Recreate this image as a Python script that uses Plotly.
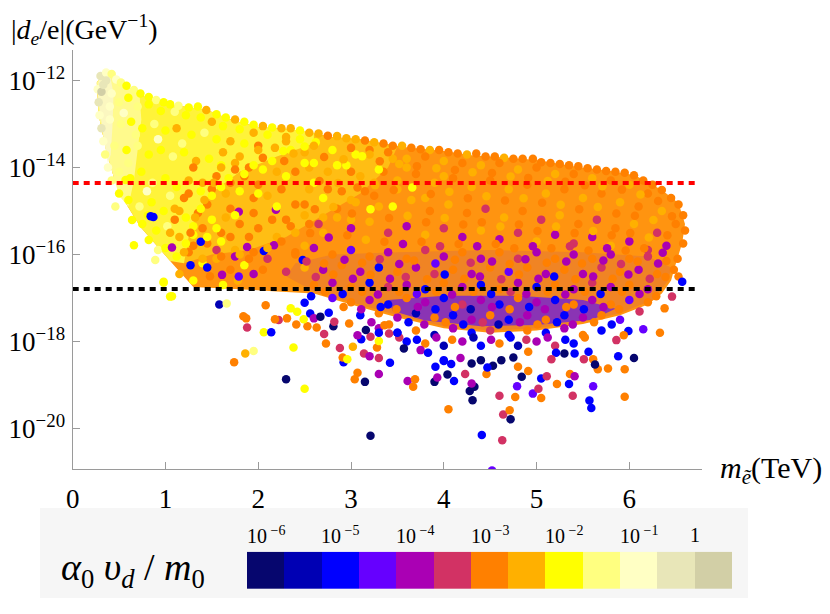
import plotly.graph_objects as go

# the page body adds an 8px margin, so the figure is drawn inside it
OX, OY = 8, 8
W, H = 822, 606

# colour legend: log10(alpha0 v_d / m0) in half-decade bins
bin_exp = [-6, -5.5, -5, -4.5, -4, -3.5, -3, -2.5, -2, -1.5, -1, -0.5, 0]
bin_colors = ["#06066e", "#0000b4", "#0000ff", "#6600ff", "#aa00b4", "#d23264",
              "#ff8000", "#ffb000", "#ffff00", "#ffff80", "#ffffc4", "#e8e6b8", "#d2cfa6"]
legend_pos = [0, 2, 4, 6, 8, 10, 11.5]
legend_text = ["10<sup> −6</sup>", "10<sup> −5</sup>", "10<sup> −4</sup>", "10<sup> −3</sup>",
               "10<sup> −2</sup>", "10<sup> −1</sup>", "1"]

# EDM bounds, GeV^-1
bound_red = 4.4e-15
bound_black = 1.6e-17

x_ticks = [0, 1, 2, 3, 4, 5, 6]
y_ticks = [1e-12, 1e-14, 1e-16, 1e-18, 1e-20]
y_ticktext = ["10<sup>−12</sup>", "10<sup>−14</sup>", "10<sup>−16</sup>", "10<sup>−18</sup>", "10<sup>−20</sup>"]

# outline of the dense part of the scan (m in TeV, log10 |d_e/e|)
env_m = [0.26, 0.33, 0.40, 0.50, 0.60, 0.75, 0.95, 1.20, 1.45, 1.70, 2.00, 2.40, 2.80, 3.10,
         3.57, 4.00, 4.30, 4.70, 5.00, 5.45, 5.80, 6.06, 6.35, 6.53, 6.60, 6.57, 6.49, 6.45,
         6.35, 6.20, 5.90, 5.50, 5.00, 4.50, 4.00, 3.50, 3.00, 2.60, 2.20, 1.80, 1.30, 1.05,
         0.73, 0.55, 0.44, 0.36, 0.28]
env_ld = [-12.05, -11.85, -11.82, -11.95, -12.15, -12.35, -12.52, -12.60, -12.68, -12.90,
          -13.07, -13.14, -13.30, -13.35, -13.53, -13.62, -13.72, -13.78, -13.83, -13.99,
          -14.08, -14.18, -14.52, -14.82, -15.30, -15.74, -16.29, -16.60, -16.90, -17.15,
          -17.40, -17.60, -17.75, -17.80, -17.70, -17.45, -17.15, -16.90, -16.85, -16.80,
          -16.75, -16.15, -15.37, -14.75, -14.20, -13.60, -12.80]

amber_m = [1.70, 2.00, 2.40, 2.80, 3.10, 3.50, 3.40, 3.10, 2.70, 2.30, 1.90, 1.50, 1.20, 1.25, 1.40, 1.50]
amber_ld = [-12.90, -13.07, -13.14, -13.30, -13.35, -13.52, -14.00, -14.60, -15.10, -15.60,
            -15.90, -16.00, -16.20, -15.00, -14.00, -13.20]

yellow_m = [0.26, 0.33, 0.40, 0.50, 0.60, 0.75, 0.95, 1.20, 1.45, 1.70, 2.00, 2.40, 2.60, 2.60,
            2.20, 1.80, 1.55, 1.35, 1.25, 1.20, 1.05, 0.73, 0.55, 0.44, 0.36, 0.28]
yellow_ld = [-12.05, -11.85, -11.82, -11.95, -12.15, -12.35, -12.52, -12.60, -12.68, -12.90,
             -13.07, -13.14, -13.20, -13.45, -13.75, -14.10, -14.50, -15.00, -15.60, -16.20,
             -16.15, -15.37, -14.75, -14.20, -13.60, -12.80]

light_m = [0.26, 0.33, 0.40, 0.50, 0.60, 0.72, 0.74, 0.70, 0.66, 0.60, 0.50, 0.44, 0.36, 0.28]
light_ld = [-12.05, -11.85, -11.82, -11.95, -12.15, -12.32, -12.90, -13.60, -14.30, -14.90,
            -14.65, -14.20, -13.60, -12.80]

pale_m = [0.28, 0.33, 0.40, 0.44, 0.43, 0.41, 0.38, 0.34, 0.30, 0.27]
pale_ld = [-12.00, -11.86, -11.86, -12.30, -13.00, -13.70, -13.90, -13.40, -12.80, -12.30]

low_m = [2.40, 2.80, 3.50, 4.50, 5.50, 6.20, 6.45, 6.42, 6.25, 5.90, 5.50, 5.00, 4.50, 4.00,
         3.50, 3.00, 2.60, 2.30]
low_ld = [-16.20, -16.00, -15.95, -15.90, -15.95, -16.05, -16.30, -16.60, -17.05, -17.35,
          -17.55, -17.70, -17.75, -17.65, -17.40, -17.10, -16.85, -16.50]

blue_m = [3.40, 4.00, 4.80, 5.50, 5.85, 5.60, 5.00, 4.40, 3.80, 3.45]
blue_ld = [-17.05, -16.95, -16.95, -17.05, -17.25, -17.50, -17.62, -17.65, -17.52, -17.30]

# individual points (m, log10 |d_e/e|, log10 alpha0 v_d/m0)
edge_pts = [
    (0.30, -11.90, -0.5), (0.36, -11.82, -1), (0.42, -11.85, -1.5), (0.47, -11.98, -1),
    (0.52, -12.05, -1.5), (0.58, -12.12, -2), (0.66, -12.22, -1.5), (0.73, -12.30, -2),
    (0.82, -12.38, -2), (0.90, -12.45, -1.5), (0.98, -12.50, -2), (1.05, -12.55, -2),
    (1.14, -12.58, -1.5), (1.25, -12.62, -2), (1.35, -12.60, -2), (1.44, -12.68, -2.5),
    (1.55, -12.78, -2), (1.65, -12.85, -2), (1.75, -12.90, -2.5), (1.85, -12.95, -2),
    (1.95, -13.02, -2), (2.05, -13.05, -2.5), (2.15, -13.08, -2), (2.25, -13.10, -2.5),
    (2.35, -13.10, -2.5), (2.45, -13.15, -2), (2.55, -13.20, -2.5), (2.65, -13.22, -2.5),
    (2.75, -13.27, -3), (2.85, -13.28, -2.5), (2.95, -13.33, -2.5), (3.05, -13.35, -2.5),
    (3.15, -13.38, -3), (3.25, -13.42, -2.5), (3.35, -13.45, -3), (3.45, -13.50, -3),
    (3.55, -13.50, -2.5), (3.65, -13.55, -3), (3.75, -13.58, -3), (3.85, -13.60, -2.5),
    (3.95, -13.60, -3), (4.05, -13.65, -3), (4.15, -13.68, -3), (4.25, -13.70, -2.5),
    (4.35, -13.68, -3), (4.45, -13.75, -3), (4.55, -13.75, -3), (4.65, -13.78, -2.5),
    (4.75, -13.80, -3), (4.85, -13.80, -3), (4.96, -13.80, -3), (5.05, -13.88, -3),
    (5.15, -13.90, -3), (5.25, -13.92, -3), (5.35, -13.95, -3), (5.45, -13.97, -3),
    (5.55, -14.02, -3), (5.65, -14.05, -3), (5.75, -14.08, -3), (5.85, -14.10, -3),
    (5.95, -14.12, -3), (6.05, -14.18, -3), (6.15, -14.30, -3), (6.25, -14.40, -3),
    (6.35, -14.52, -3), (6.45, -14.70, -3), (6.53, -14.85, -3), (6.58, -15.10, -3),
    (6.60, -15.45, -3), (6.58, -15.75, -3), (6.52, -16.10, -3), (6.48, -16.35, -3),
    (6.53, -16.51, -3), (6.57, -16.63, -5), (6.46, -16.97, -3.5), (6.38, -17.24, -3),
    (0.27, -12.20, -1), (0.28, -12.50, -0.5), (0.29, -12.80, -1), (0.31, -13.10, -0.5),
    (0.33, -13.40, -1), (0.35, -13.70, -1.5), (0.38, -14.00, -1), (0.42, -14.30, -1.5),
    (0.31, -12.26, 0), (0.33, -12.10, -0.5), (0.36, -12.00, -0.5), (0.40, -12.60, -1),
    (0.46, -14.90, -1.5), (0.64, -15.21, -2), (0.66, -15.79, -2), (0.82, -15.67, -2),
    (0.89, -16.13, -1.5), (0.92, -15.90, -1.5), (0.98, -16.63, -2), (1.05, -16.97, -2),
    (0.81, -15.10, -2), (0.84, -15.12, -5), (0.57, -14.29, -2), (0.50, -14.60, -2),
]

left_pts = [
    (0.42, -12.30, -1), (0.50, -12.50, -1.5), (0.60, -12.40, -2), (0.70, -12.60, -1.5),
    (0.82, -12.55, -2), (0.95, -12.70, -2), (1.10, -12.72, -1.5), (1.22, -12.80, -2),
    (1.38, -12.85, -2), (1.50, -12.95, -2.5), (1.62, -13.05, -2), (1.80, -13.12, -2),
    (1.95, -13.20, -2.5), (2.10, -13.25, -2), (2.30, -13.30, -2.5), (2.45, -13.35, -2),
    (0.40, -12.90, -1), (0.52, -13.00, -1.5), (0.63, -12.95, -2), (0.75, -13.10, -2),
    (0.88, -13.00, -1.5), (1.00, -13.15, -2), (1.12, -13.10, -2.5), (1.28, -13.25, -2),
    (1.42, -13.20, -1.5), (1.55, -13.35, -2), (1.70, -13.40, -2.5), (1.85, -13.45, -2),
    (2.00, -13.50, -3), (2.18, -13.55, -2.5), (2.35, -13.60, -2), (2.50, -13.65, -2.5),
    (0.45, -13.50, -1.5), (0.58, -13.60, -2), (0.70, -13.50, -1.5), (0.82, -13.70, -2),
    (0.95, -13.60, -2), (1.08, -13.75, -1.5), (1.20, -13.65, -2), (1.33, -13.85, -2.5),
    (1.47, -13.80, -2), (1.60, -13.95, -2), (1.75, -13.90, -2.5), (1.90, -14.00, -3),
    (2.05, -14.05, -2), (2.20, -14.10, -2.5), (2.40, -14.10, -3),
    (0.50, -14.10, -1.5), (0.62, -14.25, -2), (0.74, -14.10, -2), (0.86, -14.35, -1.5),
    (1.00, -14.25, -2), (1.12, -14.45, -2), (1.25, -14.30, -2.5), (1.38, -14.55, -2),
    (1.50, -14.50, -3), (1.65, -14.60, -2.5), (1.80, -14.55, -2), (1.95, -14.70, -3),
    (2.10, -14.65, -2.5),
    (0.60, -14.75, -2), (0.72, -14.90, -1.5), (0.85, -14.80, -2), (0.98, -15.00, -2),
    (1.10, -14.95, -2.5), (1.22, -15.15, -2), (1.35, -15.05, -3), (1.50, -15.20, -2),
    (1.65, -15.15, -2.5), (1.80, -15.30, -3),
    (0.75, -15.30, -2), (0.90, -15.45, -2), (1.02, -15.35, -1.5), (1.15, -15.60, -2.5),
    (1.30, -15.55, -2), (1.45, -15.75, -3), (1.60, -15.70, -2), (1.75, -15.90, -2.5),
    (1.00, -15.85, -2), (1.12, -16.05, -2), (1.25, -15.95, -3), (1.40, -16.20, -2),
    (1.55, -16.10, -2.5), (1.70, -16.35, -3), (1.85, -16.25, -2),
    (1.15, -16.45, -2.5), (1.30, -16.60, -2), (1.48, -16.50, -3), (1.62, -16.70, -2),
    (1.78, -16.60, -2.5),
    (1.30, -14.00, -3), (1.55, -14.20, -3), (1.70, -14.35, -3), (1.85, -14.20, -3),
    (2.00, -14.40, -3), (2.25, -14.50, -3), (2.40, -14.85, -3), (1.20, -14.70, -3),
    (1.45, -14.85, -3), (1.70, -14.95, -3), (1.95, -15.05, -3), (2.15, -15.20, -3),
    (2.35, -15.35, -3), (1.40, -15.40, -3), (1.60, -15.50, -3), (1.90, -15.60, -3),
    (2.20, -15.60, -2.5), (1.10, -15.20, -3), (1.30, -15.80, -3), (1.55, -15.90, -3.5),
    (1.90, -16.10, -3), (2.05, -16.35, -3), (2.30, -16.40, -3.5), (2.40, -16.00, -3),
    (1.38, -15.71, -5), (0.87, -15.14, -5), (1.27, -16.25, -5), (1.79, -16.51, -4.5),
    (1.61, -16.47, -4), (1.07, -15.84, -4), (2.19, -14.97, -4), (1.79, -15.02, -4),
    (2.48, -16.13, -5), (2.06, -15.92, -5), (1.88, -15.83, -4), (2.17, -15.79, -4),
    (2.57, -16.96, -5), (1.45, -16.30, -5), (1.75, -16.05, -4), (1.95, -16.45, -4),
    (2.10, -16.10, -3.5), (0.55, -12.75, -1), (0.68, -13.25, -1.5), (0.92, -13.35, -1),
    (1.18, -13.45, -1.5), (0.60, -13.90, -1.5), (0.80, -14.55, -1), (1.05, -14.65, -1.5),
    (1.62, -13.65, -2.5), (2.28, -13.85, -3), (2.55, -14.00, -2.5),
]

# points around the yellow / amber / orange transition
blend_pts = [
    (2.62, -13.42, -2), (2.50, -13.52, -2), (2.38, -13.68, -2.5), (2.27, -13.62, -2),
    (2.15, -13.85, -2), (2.05, -13.78, -3), (1.95, -13.95, -2), (1.85, -14.15, -2),
    (1.75, -14.05, -3), (1.68, -14.25, -2), (1.60, -14.45, -2), (1.52, -14.35, -2.5),
    (1.50, -14.65, -2), (1.42, -14.75, -2.5), (1.38, -14.95, -2), (1.32, -15.15, -2.5),
    (1.30, -15.35, -2), (1.27, -15.50, -3), (1.22, -15.75, -2), (1.20, -15.95, -2.5),
    (2.30, -13.40, -2.5), (2.00, -13.60, -2.5), (1.80, -13.75, -2.5), (1.60, -14.00, -2.5),
    (1.40, -14.35, -2.5), (1.25, -14.60, -3), (1.15, -15.00, -2.5), (1.05, -15.50, -2.5),
    (2.50, -13.90, -2), (2.30, -14.20, -2), (2.00, -14.60, -2), (1.75, -15.10, -2),
    (1.55, -15.40, -2), (1.45, -15.60, -2), (2.20, -14.90, -2), (2.60, -14.35, -2),
    (2.85, -13.95, -2), (3.05, -13.70, -2),
    (3.45, -13.80, -2.5), (3.35, -14.10, -3), (3.25, -14.35, -2.5), (3.15, -14.55, -3),
    (3.00, -14.75, -2.5), (2.85, -14.95, -3), (2.70, -15.15, -2.5), (2.55, -15.30, -3),
    (2.40, -15.50, -2.5), (2.25, -15.70, -3), (2.10, -15.85, -2.5), (1.95, -15.95, -3),
    (1.80, -16.00, -2.5), (1.60, -16.05, -3), (1.40, -16.10, -2.5),
    (3.20, -13.60, -3), (3.00, -14.10, -3), (2.75, -14.50, -3), (2.50, -14.85, -3),
    (2.30, -15.20, -3), (2.00, -15.40, -3), (1.70, -15.60, -3),
    (3.60, -14.00, -2.5), (3.50, -14.50, -2.5), (3.30, -14.90, -2.5), (3.00, -15.20, -2.5),
    (2.70, -15.50, -2.5), (2.50, -15.80, -2.5), (4.00, -14.20, -2.5), (3.80, -14.70, -2.5),
]

mid_pts = [
    (2.60, -13.50, -2.5), (2.80, -13.60, -2), (3.00, -13.55, -3), (3.20, -13.70, -2.5),
    (3.40, -13.65, -3), (3.60, -13.80, -2.5), (3.80, -13.75, -3), (4.00, -13.85, -2.5),
    (4.20, -13.90, -3), (4.40, -13.95, -2.5), (4.60, -13.90, -3), (4.80, -14.05, -2.5),
    (5.00, -14.00, -3), (5.20, -14.15, -2.5), (5.40, -14.15, -3), (5.60, -14.25, -2.5),
    (5.80, -14.30, -3), (6.00, -14.40, -2.5), (6.20, -14.60, -3),
    (2.60, -13.90, -2), (2.75, -14.10, -2.5), (2.95, -13.95, -2), (3.10, -14.20, -2.5),
    (3.30, -14.05, -2), (3.50, -14.30, -2.5), (3.70, -14.15, -3), (3.90, -14.35, -2.5),
    (4.10, -14.25, -3), (4.30, -14.45, -2.5), (4.50, -14.30, -3), (4.70, -14.50, -2.5),
    (4.90, -14.40, -3), (5.10, -14.60, -2.5), (5.30, -14.50, -3), (5.50, -14.70, -2.5),
    (5.70, -14.60, -3), (5.90, -14.80, -2.5), (6.10, -14.90, -3), (6.35, -15.00, -2.5),
    (2.55, -14.50, -2.5), (2.70, -14.70, -2), (2.90, -14.55, -3), (3.05, -14.80, -2.5),
    (3.25, -14.65, -3), (3.45, -14.90, -2), (3.65, -14.75, -2.5), (3.85, -15.00, -3),
    (4.05, -14.85, -2.5), (4.25, -15.05, -3), (4.45, -14.95, -3.5), (4.65, -15.15, -2.5),
    (4.85, -15.00, -3), (5.05, -15.20, -3.5), (5.25, -15.10, -2.5), (5.45, -15.30, -3),
    (5.65, -15.20, -3.5), (5.85, -15.40, -3), (6.05, -15.30, -2.5), (6.30, -15.50, -3.5),
    (6.50, -15.30, -3),
    (2.50, -15.10, -2.5), (2.65, -15.30, -3.5), (2.85, -15.15, -2.5), (3.00, -15.40, -4),
    (3.20, -15.25, -2.5), (3.40, -15.50, -3.5), (3.60, -15.35, -4), (3.80, -15.55, -2.5),
    (4.00, -15.40, -3.5), (4.20, -15.60, -4), (4.40, -15.45, -2.5), (4.60, -15.65, -4),
    (4.80, -15.50, -3.5), (5.00, -15.70, -2.5), (5.20, -15.55, -4), (5.40, -15.75, -3.5),
    (5.60, -15.60, -4), (5.80, -15.80, -2.5), (6.00, -15.70, -4), (6.20, -15.90, -3.5),
    (6.40, -15.80, -4),
    (2.71, -13.76, -3), (2.92, -13.81, -2.5), (3.12, -13.74, -2), (3.31, -13.86, -3),
    (3.52, -13.92, -2.5), (3.71, -13.97, -3), (3.92, -14.02, -2.5), (4.12, -14.06, -3),
    (4.31, -14.11, -2.5), (4.52, -14.13, -3), (4.72, -14.21, -2.5), (4.91, -14.24, -3),
    (5.12, -14.31, -2.5), (5.31, -14.33, -3), (5.52, -14.41, -3), (5.71, -14.43, -2.5),
    (5.92, -14.51, -3), (6.12, -14.62, -2.5), (6.31, -14.77, -3),
    (2.66, -14.31, -3), (2.86, -14.36, -2.5), (3.07, -14.46, -3), (3.26, -14.41, -2.5),
    (3.46, -14.52, -3), (3.66, -14.46, -2), (3.86, -14.61, -3), (4.06, -14.56, -2.5),
    (4.26, -14.71, -3), (4.46, -14.66, -2.5), (4.66, -14.76, -3), (4.86, -14.71, -2.5),
    (5.06, -14.81, -3), (5.26, -14.86, -2.5), (5.46, -14.96, -3), (5.66, -14.91, -2.5),
    (5.86, -15.06, -3), (6.06, -15.11, -3), (6.26, -15.21, -2.5), (6.46, -15.12, -3),
    (2.61, -14.96, -3), (2.81, -14.91, -2.5), (3.01, -15.06, -3), (3.21, -14.96, -2),
    (3.41, -15.16, -3), (3.61, -15.11, -2.5), (3.81, -15.26, -3), (4.01, -15.16, -2.5),
    (4.21, -15.31, -3), (4.41, -15.26, -3), (4.61, -15.36, -2.5), (4.81, -15.31, -3),
    (5.01, -15.46, -3), (5.21, -15.36, -2.5), (5.41, -15.51, -3), (5.61, -15.46, -2.5),
    (5.81, -15.56, -3), (6.01, -15.51, -3), (6.21, -15.61, -2.5), (6.41, -15.56, -3),
    (2.56, -15.51, -3), (2.76, -15.61, -4), (2.96, -15.56, -3), (3.16, -15.66, -2.5),
    (3.36, -15.71, -3), (3.56, -15.76, -4), (3.76, -15.71, -3), (3.96, -15.81, -3.5),
    (4.16, -15.76, -3), (4.36, -15.81, -4), (4.56, -15.76, -3), (4.76, -15.86, -3),
    (4.96, -15.81, -4), (5.16, -15.86, -3), (5.36, -15.81, -3.5), (5.56, -15.91, -3),
    (5.76, -15.86, -4), (5.96, -15.91, -3), (6.16, -15.86, -3), (6.36, -15.96, -4),
]

low_pts = [
    (2.40, -15.95, -3), (2.60, -15.85, -4), (2.80, -16.00, -3), (3.00, -15.90, -4.5),
    (3.20, -16.05, -3), (3.40, -15.95, -4), (3.60, -16.10, -3), (3.80, -15.90, -3.5),
    (4.00, -16.05, -4), (4.20, -15.95, -3), (4.40, -16.10, -4), (4.60, -15.95, -3),
    (4.80, -16.10, -3.5), (5.00, -15.95, -4), (5.20, -16.10, -3), (5.40, -16.00, -4),
    (5.60, -16.10, -3), (5.80, -16.00, -4), (6.00, -16.10, -3), (6.20, -16.05, -3.5),
    (6.40, -16.15, -3),
    (2.50, -16.30, -2.5), (2.70, -16.35, -4), (2.90, -16.25, -3), (3.10, -16.40, -4),
    (3.30, -16.30, -5), (3.50, -16.40, -3), (3.70, -16.30, -4), (3.90, -16.45, -3.5),
    (4.10, -16.35, -3), (4.30, -16.45, -4), (4.50, -16.30, -3), (4.70, -16.40, -4.5),
    (4.90, -16.30, -3), (5.10, -16.45, -4), (5.30, -16.35, -3), (5.50, -16.45, -4),
    (5.70, -16.30, -3.5), (5.90, -16.40, -3), (6.10, -16.35, -4), (6.30, -16.45, -3),
    (2.60, -16.70, -3), (2.80, -16.65, -4), (3.00, -16.75, -3), (3.20, -16.65, -5),
    (3.40, -16.75, -3.5), (3.60, -16.70, -4), (3.80, -16.80, -5), (4.00, -16.65, -3),
    (4.20, -16.75, -4), (4.40, -16.70, -5), (4.60, -16.80, -3), (4.80, -16.65, -4),
    (5.00, -16.75, -5), (5.20, -16.70, -3), (5.40, -16.80, -4), (5.60, -16.65, -3.5),
    (5.80, -16.75, -4), (6.00, -16.70, -3), (6.20, -16.80, -4),
    (2.80, -17.00, -4.5), (3.00, -17.10, -3), (3.20, -17.05, -4), (3.40, -17.15, -5),
    (3.60, -17.00, -3), (3.80, -17.10, -4), (4.00, -17.00, -5), (4.20, -17.15, -3.5),
    (4.40, -17.05, -4), (4.60, -17.15, -5), (4.80, -17.00, -3), (5.00, -17.10, -4),
    (5.20, -17.05, -5), (5.40, -17.15, -3), (5.60, -17.05, -4), (5.80, -17.15, -3),
    (6.00, -17.05, -4.5), (6.20, -17.10, -3),
    (3.10, -17.40, -5), (3.30, -17.35, -3), (3.50, -17.45, -4), (3.70, -17.35, -5.5),
    (3.90, -17.45, -3), (4.10, -17.40, -5), (4.30, -17.50, -4), (4.50, -17.40, -3),
    (4.70, -17.50, -5), (4.90, -17.40, -4), (5.10, -17.50, -3), (5.30, -17.40, -5),
    (5.50, -17.45, -4), (5.70, -17.40, -3), (5.90, -17.50, -4.5),
    (3.30, -17.70, -4), (3.50, -17.80, -5), (3.70, -17.75, -3), (3.90, -17.85, -5.5),
    (4.10, -17.70, -4), (4.30, -17.80, -5), (4.50, -17.75, -3.5), (4.70, -17.85, -5),
    (4.90, -17.75, -3), (5.10, -17.80, -5), (5.30, -17.70, -4), (5.50, -17.85, -3),
    (5.70, -17.75, -5),
    (3.60, -18.00, -5), (3.80, -18.05, -3), (4.00, -18.10, -5.5), (4.20, -18.00, -4),
    (4.40, -18.10, -5), (4.60, -18.05, -3), (4.80, -18.10, -5.5), (5.00, -18.00, -4),
    (5.20, -18.10, -3.5), (5.40, -18.05, -5),
    (2.52, -16.16, -3.5), (2.71, -16.21, -3), (2.93, -16.12, -4), (3.12, -16.19, -3),
    (3.31, -16.11, -3.5), (3.52, -16.22, -4), (3.68, -16.14, -3), (3.91, -16.21, -4.5),
    (4.12, -16.12, -3), (4.29, -16.19, -3.5), (4.52, -16.16, -4), (4.71, -16.22, -3),
    (4.88, -16.11, -4), (5.11, -16.19, -3), (5.32, -16.16, -4), (5.49, -16.21, -3),
    (5.72, -16.14, -4), (5.91, -16.22, -3.5), (6.09, -16.16, -3), (6.31, -16.21, -4),
    (2.62, -16.52, -3.5), (2.81, -16.46, -3), (3.02, -16.56, -4), (3.21, -16.47, -3),
    (3.42, -16.56, -4), (3.59, -16.52, -3.5), (3.82, -16.57, -3), (4.01, -16.46, -5),
    (4.22, -16.56, -3), (4.39, -16.51, -4), (4.62, -16.57, -3.5), (4.81, -16.46, -3),
    (5.02, -16.56, -4), (5.19, -16.51, -5), (5.42, -16.57, -3), (5.61, -16.51, -4),
    (5.82, -16.56, -3), (5.99, -16.46, -4), (6.22, -16.56, -3.5), (6.39, -16.52, -3),
    (2.72, -16.86, -3), (2.91, -16.91, -5), (3.12, -16.86, -3), (3.29, -16.92, -4),
    (3.52, -16.86, -3), (3.71, -16.91, -4.5), (3.92, -16.86, -3), (4.09, -16.92, -4),
    (4.32, -16.86, -3), (4.51, -16.91, -5), (4.72, -16.86, -3.5), (4.89, -16.91, -4),
    (5.12, -16.86, -3), (5.31, -16.92, -4), (5.52, -16.86, -3), (5.69, -16.91, -5),
    (5.92, -16.86, -3), (6.11, -16.91, -4), (6.29, -16.96, -3),
    (2.92, -17.21, -3), (3.11, -17.26, -4), (3.32, -17.21, -5), (3.49, -17.26, -3),
    (3.72, -17.21, -4), (3.91, -17.26, -5), (4.12, -17.21, -3), (4.29, -17.26, -5.5),
    (4.52, -17.21, -4), (4.71, -17.26, -3), (4.92, -17.21, -5), (5.09, -17.26, -4),
    (5.32, -17.21, -3), (5.51, -17.26, -5), (5.72, -17.21, -4), (5.89, -17.26, -3),
    (6.11, -17.31, -3.5),
    (3.22, -17.56, -4), (3.41, -17.61, -3), (3.62, -17.56, -5), (3.79, -17.61, -4),
    (4.02, -17.56, -3), (4.21, -17.61, -5), (4.42, -17.56, -3.5), (4.59, -17.61, -5.5),
    (4.82, -17.56, -4), (5.01, -17.61, -3), (5.22, -17.56, -5), (5.39, -17.61, -4),
    (5.62, -17.56, -3), (5.81, -17.61, -5),
    (3.52, -17.91, -3.5), (3.71, -17.96, -5), (3.92, -17.91, -4), (4.09, -17.96, -3),
    (4.32, -17.91, -5.5), (4.51, -17.96, -4), (4.72, -17.91, -5), (4.89, -17.96, -3.5),
    (5.12, -17.91, -4), (5.31, -17.96, -5), (5.52, -17.91, -3),
]

out_pts = [
    (0.98, -16.65, -2), (1.07, -16.96, -2), (1.58, -17.15, -5.5), (1.66, -17.13, -1.5),
    (1.84, -17.42, -3), (1.87, -17.47, -3), (1.88, -17.68, -3.5), (2.06, -17.79, -2),
    (2.14, -17.79, -5), (1.95, -18.22, -1.5), (1.86, -18.28, -2.5), (1.74, -18.48, -3),
    (2.38, -18.14, -2), (2.30, -18.87, -6), (2.50, -19.09, -2), (3.21, -20.17, -6),
    (3.07, -18.72, -3), (3.04, -18.87, -3), (3.15, -18.93, -6), (3.30, -18.75, -4),
    (3.42, -18.49, -5), (2.92, -18.48, -5), (2.91, -18.37, -3), (2.96, -18.41, -2),
    (2.88, -18.15, -3.5), (3.30, -18.38, -3.5), (3.14, -18.28, -3.5), (3.20, -18.34, -4),
    (3.61, -18.91, -4), (3.69, -18.87, -3), (3.67, -19.04, -3), (3.90, -18.93, -6),
    (3.93, -18.83, -4), (4.04, -18.76, -6), (4.05, -19.56, -3), (3.91, -18.58, -5),
    (2.73, -18.05, -3), (2.81, -17.65, -6), (3.02, -18.12, -2.5), (3.11, -17.95, -5),
    (3.21, -17.89, -3.5), (3.28, -18.14, -3), (3.30, -17.99, -2), (3.50, -17.80, -5),
    (3.57, -18.16, -6), (3.75, -18.20, -4), (3.83, -18.26, -5), (4.00, -18.45, -5),
    (2.53, -17.65, -3), (2.63, -17.68, -3), (2.71, -17.83, -3.5), (2.41, -17.61, -3),
    (2.31, -17.47, -3), (2.22, -17.51, -3.5), (2.18, -17.49, -3), (2.49, -17.49, -2),
    (2.08, -17.17, -3), (2.35, -17.24, -2), (2.42, -17.32, -2), (2.50, -17.11, -5),
    (2.56, -17.36, -5), (2.60, -17.47, -4), (2.67, -17.43, -6), (2.76, -17.34, -5),
    (2.82, -17.55, -3.5), (2.98, -17.59, -3), (3.07, -17.86, -4), (3.16, -17.74, -6),
    (3.30, -17.80, -5), (3.41, -17.82, -3.5), (3.36, -17.63, -3),
    (4.41, -20.15, -5), (4.63, -20.27, -3.5), (4.72, -19.79, -6), (4.64, -19.68, -3.5),
    (4.71, -19.58, -3), (4.60, -19.25, -3.5), (4.77, -19.28, -3), (4.79, -19.03, -4.5),
    (4.96, -19.20, -4.5), (5.05, -19.30, -3), (5.02, -19.09, -3.5), (5.05, -18.85, -5),
    (5.11, -18.80, -3.5), (5.22, -18.98, -3), (5.35, -18.98, -5), (5.39, -19.25, -3.5),
    (5.57, -19.36, -5), (5.59, -19.53, -5), (5.61, -19.03, -4.5), (5.95, -19.27, -3),
    (4.31, -19.35, -6), (4.28, -19.14, -6), (4.33, -19.04, -6), (4.30, -18.97, -4),
    (4.11, -18.91, -5), (4.23, -18.75, -3.5), (4.46, -18.75, -3), (4.84, -18.81, -6),
    (4.80, -18.58, -3), (4.91, -18.68, -3), (5.36, -18.75, -3), (5.41, -18.80, -4),
    (5.66, -18.64, -3), (5.77, -18.62, -3), (5.95, -18.64, -3), (5.88, -18.34, -5),
    (6.05, -18.38, -6), (5.99, -17.76, -5), (6.15, -17.72, -4.5), (6.33, -17.80, -3),
    (5.86, -17.97, -3.5), (5.94, -17.86, -3), (5.61, -18.41, -3), (5.51, -18.41, -3.5),
    (5.63, -18.53, -6), (5.56, -18.24, -5), (5.41, -18.28, -5), (5.30, -18.28, -6),
    (5.21, -18.26, -5), (5.16, -18.41, -3.5), (4.91, -18.24, -3), (4.75, -18.37, -6),
    (4.62, -18.43, -6), (4.40, -18.43, -6), (4.53, -18.56, -6), (4.47, -18.60, -5),
    (4.30, -18.51, -6), (4.18, -18.38, -4), (4.08, -18.52, -5), (4.00, -18.43, -5),
    (4.52, -20.97, -4.5),
]


def color_of(c):
    return bin_colors[int(round((c - bin_exp[0]) * 2))]


def fx(px):
    return (px - OX) / W


def fy(py):
    return 1 - (py - OY) / H


fig = go.Figure()

# dense body of the scan
for m, ld, col in [(env_m, env_ld, "#ff9410"), (amber_m, amber_ld, "#ffbe14"),
                   (yellow_m, yellow_ld, "#fff33a"), (light_m, light_ld, "#fffa8c"),
                   (pale_m, pale_ld, "#fbf7c0"),
                   (low_m, low_ld, "#f08424"), (blue_m, blue_ld, "#8a34b4")]:
    fig.add_trace(go.Scatter(x=m, y=[10 ** v for v in ld], mode="none", fill="toself",
                             fillcolor=col, hoverinfo="skip", showlegend=False))

pts = edge_pts + left_pts + blend_pts + mid_pts + low_pts + out_pts
fig.add_trace(go.Scatter(
    x=[p[0] for p in pts], y=[10 ** p[1] for p in pts], mode="markers",
    marker=dict(size=8.5, color=[color_of(p[2]) for p in pts], line_width=0),
    showlegend=False, hoverinfo="skip"))

fig.add_trace(go.Scatter(x=[0, 6.75], y=[bound_red, bound_red], mode="lines",
                         line=dict(color="#ff0000", width=4, dash="6px,5px"), showlegend=False))
fig.add_trace(go.Scatter(x=[0, 6.75], y=[bound_black, bound_black], mode="lines",
                         line=dict(color="#000000", width=4, dash="6px,5px"), showlegend=False))

# colour key
n = len(bin_colors)
cscale = []
for i, col in enumerate(bin_colors):
    cscale += [[i / n, col], [(i + 1) / n, col]]
fig.add_trace(go.Heatmap(z=[list(range(n))], x=list(range(n)), y=[0], colorscale=cscale,
                         zmin=-0.5, zmax=n - 0.5, showscale=False, xaxis="x2", yaxis="y2",
                         hoverinfo="skip"))

font = "Liberation Serif, Times New Roman, Times, DejaVu Serif, serif"
axis_style = dict(showline=True, linecolor="#9a9a9a", linewidth=1.4, ticks="inside",
                  ticklen=7, tickwidth=1.3, tickcolor="#9a9a9a", showgrid=False,
                  zeroline=False, mirror=False, automargin=False)

annotations = [
    dict(text="|<i>d</i><sub><i>e</i></sub>/e|(GeV<sup>−1</sup>)", x=fx(9), y=fy(29),
         xref="paper", yref="paper", xanchor="left", yanchor="middle", showarrow=False,
         font=dict(family=font, size=28, color="black")),
    dict(text="<i>m</i><sub><i>ẽ</i></sub>(TeV)", x=fx(718), y=fy(470),
         xref="paper", yref="paper", xanchor="left", yanchor="middle", showarrow=False,
         font=dict(family=font, size=30, color="black")),
    dict(text="<i>α</i><sub>0</sub> <i>υ</i><sub><i>d</i></sub> / <i>m</i><sub>0</sub>",
         x=fx(133), y=fy(570), xref="paper", yref="paper", xanchor="center",
         yanchor="middle", showarrow=False, font=dict(family=font, size=38, color="black")),
]
for pos, txt in zip(legend_pos, legend_text):
    annotations.append(dict(text=txt, x=pos, y=fy(535), xref="x2", yref="paper",
                            xanchor="center", yanchor="middle", showarrow=False,
                            font=dict(family=font, size=20, color="black")))

fig.update_layout(
    width=W, height=H, margin=dict(l=0, r=0, t=0, b=0, autoexpand=False),
    paper_bgcolor="white", plot_bgcolor="white",
    xaxis=dict(domain=[fx(72.7), fx(701.7)], range=[0, 6.78], tickvals=x_ticks,
               tickfont=dict(family=font, size=27, color="black"), ticklabelstandoff=5,
               anchor="y", **axis_style),
    yaxis=dict(domain=[fy(469.3), fy(50)], type="log", range=[-20.94, -11.30],
               tickvals=y_ticks, ticktext=y_ticktext, ticklabelstandoff=1,
               tickfont=dict(family=font, size=27, color="black"), anchor="x", **axis_style),
    xaxis2=dict(domain=[fx(247), fx(732.3)], range=[-0.5, n - 0.5], visible=False, anchor="y2"),
    yaxis2=dict(domain=[fy(589), fy(551.7)], range=[-0.5, 0.5], visible=False, anchor="x2"),
    shapes=[dict(type="rect", xref="paper", yref="paper", x0=fx(40), x1=fx(748),
                 y0=fy(598), y1=fy(508), fillcolor="#f6f6f6", line_width=0, layer="below")],
    annotations=annotations,
)

fig.write_html("out.html")
